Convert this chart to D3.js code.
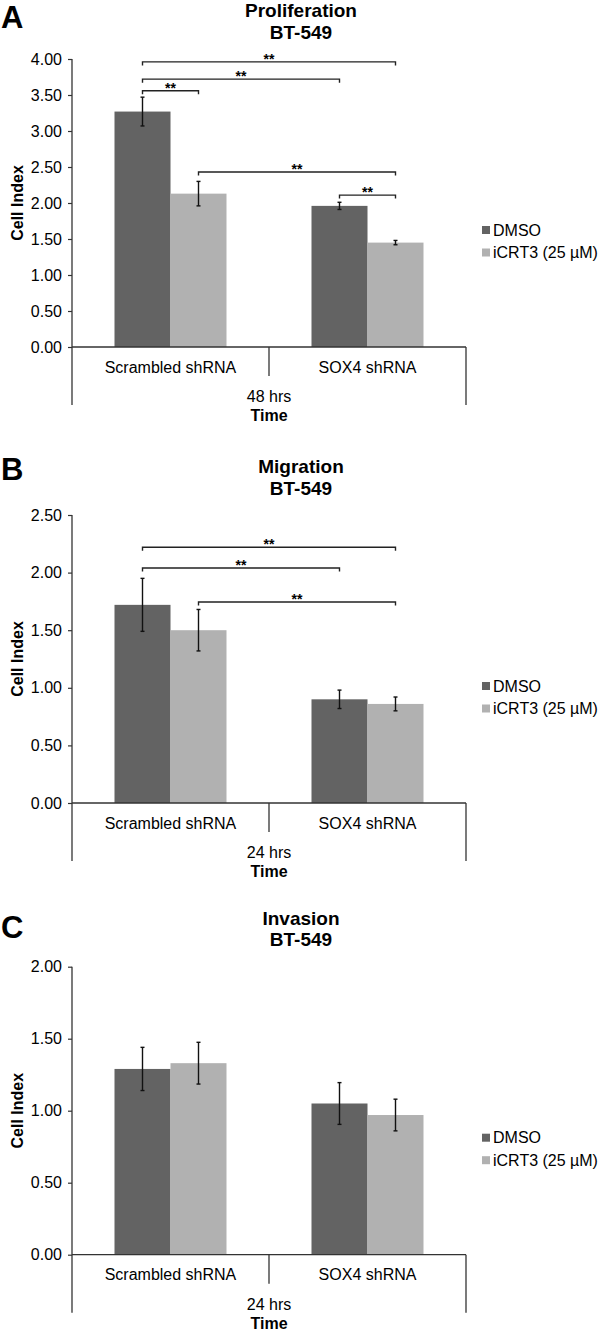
<!DOCTYPE html>
<html>
<head>
<meta charset="utf-8">
<script src="https://cdn.jsdelivr.net/npm/d3@7"></script>
<style>
  html, body { margin: 0; padding: 0; background: #fff; }
  svg { display: block; font-family: "Liberation Sans", Arial, sans-serif; }
</style>
</head>
<body>
<svg id="chart" width="600" height="1331"></svg>
<script>
// ---------- DATA ----------
const categories = ["Scrambled shRNA", "SOX4 shRNA"];
const seriesNames = ["DMSO", "iCRT3 (25 µM)"];
const panelLetters = ["A", "B", "C"];
const panelTitles = ["Proliferation", "Migration", "Invasion"];
const cellLine = "BT-549";
const timeLabels = ["48 hrs", "24 hrs", "24 hrs"];
const yMaxima = [4.0, 2.5, 2.0];

// values: [Scrambled DMSO, Scrambled iCRT3, SOX4 DMSO, SOX4 iCRT3]
const proliferationValues = [3.27, 2.13, 1.96, 1.45];
const proliferationErrors = [0.20, 0.17, 0.05, 0.03];
const migrationValues = [1.72, 1.50, 0.90, 0.86];
const migrationErrors = [0.23, 0.18, 0.08, 0.06];
const invasionValues = [1.29, 1.33, 1.05, 0.97];
const invasionErrors = [0.15, 0.145, 0.145, 0.11];

// significance brackets: [fromBar, toBar, level (cell index)]
const proliferationBrackets = [[0, 3, 3.96], [0, 2, 3.72], [0, 1, 3.56], [1, 3, 2.43], [2, 3, 2.11]];
const migrationBrackets = [[0, 3, 2.22], [0, 2, 2.04], [1, 3, 1.745]];
const invasionBrackets = [];

const panelValues = [proliferationValues, migrationValues, invasionValues];
const panelErrors = [proliferationErrors, migrationErrors, invasionErrors];
const panelBrackets = [proliferationBrackets, migrationBrackets, invasionBrackets];

// ---------- LAYOUT ----------
const colors = ["#636363", "#b1b1b1"];
const axisColor = "#333";
const plotTops = [59, 515, 966.7];
const letterBaselines = [28.2, 480, 938];
const plotH = 288;
const xLeft = 72, xRight = 466;
const groupW = 112;

const svg = d3.select("#chart");

panelLetters.forEach((letter, p) => {
  const top = plotTops[p];
  const bottom = top + plotH;
  const g = svg.append("g");

  const y = d3.scaleLinear().domain([0, yMaxima[p]]).range([bottom, top]);
  const x0 = d3.scaleBand().domain(categories).range([xLeft, xRight]).padding(0);
  const bw = x0.bandwidth();
  const x1 = d3.scaleBand().domain(seriesNames)
    .range([(bw - groupW) / 2, (bw + groupW) / 2]).padding(0);

  // Letter
  g.append("text").attr("x", 1).attr("y", letterBaselines[p])
    .attr("font-size", 31).attr("font-weight", "bold").text(letter);

  // Title
  g.append("text").attr("x", 301).attr("y", top - 42).attr("text-anchor", "middle")
    .attr("font-size", 19).attr("font-weight", "bold").text(panelTitles[p]);
  g.append("text").attr("x", 301).attr("y", top - 20.5).attr("text-anchor", "middle")
    .attr("font-size", 19).attr("font-weight", "bold").text(cellLine);

  // bars
  const bars = [];
  categories.forEach((c, ci) => {
    seriesNames.forEach((s, si) => {
      const idx = ci * seriesNames.length + si;
      bars.push({ c, s, si, v: panelValues[p][idx], e: panelErrors[p][idx] });
    });
  });
  const barCx = d => x0(d.c) + x1(d.s) + x1.bandwidth() / 2;

  g.selectAll("rect.bar").data(bars).enter().append("rect")
    .attr("class", "bar")
    .attr("x", d => x0(d.c) + x1(d.s))
    .attr("width", x1.bandwidth())
    .attr("y", d => y(d.v))
    .attr("height", d => y(0) - y(d.v))
    .attr("fill", d => colors[d.si]);

  // Y axis
  const yAxis = d3.axisLeft(y).tickValues(d3.range(0, yMaxima[p] + 0.001, 0.5))
    .tickFormat(d3.format(".2f")).tickSize(4).tickPadding(6);
  const ya = g.append("g").attr("transform", `translate(${xLeft},0)`).call(yAxis);
  ya.select(".domain").remove();
  ya.selectAll(".tick line").attr("stroke", axisColor).attr("stroke-width", 1.2);
  ya.selectAll(".tick text").attr("font-size", 16).attr("fill", "#000")
    .attr("font-family", "Liberation Sans, Arial, sans-serif");

  // Axis lines (y axis extends down to bottom of multi-level category axis)
  const axBottom = bottom + 58;
  g.append("line").attr("x1", xLeft).attr("x2", xLeft).attr("y1", top).attr("y2", axBottom)
    .attr("stroke", axisColor).attr("stroke-width", 1.3);
  g.append("line").attr("x1", xLeft).attr("x2", xRight).attr("y1", y(0)).attr("y2", y(0))
    .attr("stroke", axisColor).attr("stroke-width", 1.3);
  g.append("line").attr("x1", xRight).attr("x2", xRight).attr("y1", y(0)).attr("y2", axBottom)
    .attr("stroke", axisColor).attr("stroke-width", 1.3);
  g.append("line").attr("x1", x0(categories[1])).attr("x2", x0(categories[1]))
    .attr("y1", y(0)).attr("y2", y(0) + 29)
    .attr("stroke", axisColor).attr("stroke-width", 1.3);

  // category labels
  categories.forEach(c => {
    g.append("text").attr("x", x0(c) + bw / 2).attr("y", bottom + 25.5)
      .attr("text-anchor", "middle").attr("font-size", 16).text(c);
  });
  g.append("text").attr("x", (xLeft + xRight) / 2).attr("y", bottom + 55)
    .attr("text-anchor", "middle").attr("font-size", 16).text(timeLabels[p]);
  g.append("text").attr("x", (xLeft + xRight) / 2).attr("y", bottom + 74)
    .attr("text-anchor", "middle").attr("font-size", 16).attr("font-weight", "bold").text("Time");

  // Y title
  g.append("text")
    .attr("transform", `translate(22.5,${(top + bottom) / 2}) rotate(-90)`)
    .attr("text-anchor", "middle").attr("font-size", 16).attr("font-weight", "bold")
    .text("Cell Index");

  // error bars
  const eb = g.selectAll("g.err").data(bars).enter().append("g").attr("class", "err")
    .attr("stroke", "#111").attr("stroke-width", 1.4);
  eb.append("line").attr("x1", barCx).attr("x2", barCx)
    .attr("y1", d => y(d.v + d.e)).attr("y2", d => y(d.v - d.e));
  eb.append("line").attr("x1", d => barCx(d) - 2).attr("x2", d => barCx(d) + 2)
    .attr("y1", d => y(d.v + d.e)).attr("y2", d => y(d.v + d.e));
  eb.append("line").attr("x1", d => barCx(d) - 2).attr("x2", d => barCx(d) + 2)
    .attr("y1", d => y(d.v - d.e)).attr("y2", d => y(d.v - d.e));

  // significance brackets
  panelBrackets[p].forEach(([a, b, lvl]) => {
    const xa = barCx(bars[a]), xb = barCx(bars[b]), yy = y(lvl);
    g.append("path")
      .attr("d", `M${xa},${yy + 3.5}V${yy}H${xb}V${yy + 3.5}`)
      .attr("fill", "none").attr("stroke", "#222").attr("stroke-width", 1.4);
    g.append("text").attr("x", (xa + xb) / 2).attr("y", yy + 2)
      .attr("text-anchor", "middle").attr("font-size", 14).attr("font-weight", "bold")
      .text("**");
  });

  // legend
  const legTop = top + 171;
  seriesNames.forEach((s, si) => {
    const cy = legTop + si * 22.5;
    g.append("rect").attr("x", 482).attr("y", cy - 4).attr("width", 8).attr("height", 8)
      .attr("fill", colors[si]);
    g.append("text").attr("x", 493).attr("y", cy + 5.5).attr("font-size", 16).text(s);
  });
});
</script>
</body>
</html>
